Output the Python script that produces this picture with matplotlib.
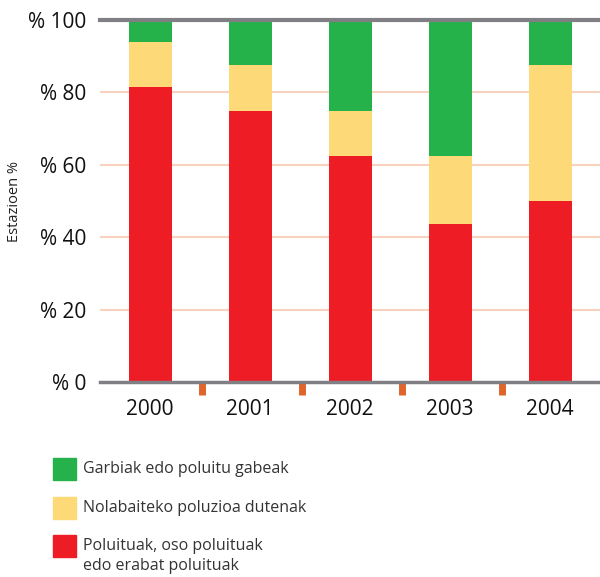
import numpy as np
import matplotlib
matplotlib.use("Agg")
from matplotlib import pyplot as plt
from matplotlib.patches import Rectangle

years = ["2000", "2001", "2002", "2003", "2004"]
poluituak = [81.5, 75.0, 62.5, 43.75, 50.0]
nolabaiteko = [12.5, 12.5, 12.5, 18.75, 37.5]
garbiak = [6.0, 12.5, 25.0, 37.5, 12.5]

labels = ["Garbiak edo poluitu gabeak",
          "Nolabaiteko poluzioa dutenak",
          "Poluituak, oso poluituak\nedo erabat poluituak"]
colors = ["#25b24b", "#fdd978", "#ee1c25"]

plt.rcParams['font.family'] = ['Open Sans', 'DejaVu Sans']

fig = plt.figure(figsize=(6, 5.77), dpi=100)
ax = fig.add_axes([100/600, 1-382/577, 500/600, 362/577])

x = np.arange(len(years))
w = 0.43
red = np.array(poluituak)
yel = np.array(nolabaiteko)
grn = np.array(garbiak)
ax.bar(x, red, w, color=colors[2], zorder=3)
ax.bar(x, yel, w, bottom=red, color=colors[1], zorder=3)
ax.bar(x, grn, w, bottom=red+yel, color=colors[0], zorder=3)

ax.set_xlim(-0.5, 4.5)
ax.set_ylim(0, 100)
ax.set_yticks([0, 20, 40, 60, 80, 100])
ax.set_yticklabels(["% " + str(v) for v in [0, 20, 40, 60, 80, 100]], fontsize=15, color="#111111")
ax.set_xticks(x)
ax.set_xticklabels(years, fontsize=15, color="#111111")
ax.set_xticks(x[:-1] + 0.52, minor=True)
ax.tick_params(axis='both', which='major', length=0, pad=10)
ax.tick_params(axis='x', which='major', pad=12)
ax.tick_params(axis='x', which='minor', length=9, width=5, color="#e0652a", direction='out')

for v in [20, 40, 60, 80]:
    ax.axhline(v, color="#f8d2bf", lw=1.5, zorder=1)
ax.axhline(100, color="#808084", lw=3, zorder=4, clip_on=False)

for s in ['top', 'right', 'left']:
    ax.spines[s].set_visible(False)
ax.spines['bottom'].set_color("#808084")
ax.spines['bottom'].set_linewidth(2.5)
ax.spines['bottom'].set_zorder(4)

ax.set_ylabel("Estazioen %", fontsize=10.5, color="#222222")
ax.yaxis.set_label_coords(-0.155, 0.5)

# legend drawn by hand so the square sits on the first text line
tops = [458, 497, 535]
for lab, col, t in zip(labels, colors, tops):
    fig.patches.append(Rectangle((53/600, 1-(t+22)/577), 23/600, 22/577,
                                 color=col, transform=fig.transFigure, figure=fig))
    fig.text(83/600, 1-(t+3)/577, lab, fontsize=11.5, color="#333333",
             va='top', ha='left', linespacing=1.3)

fig.savefig("out.png", dpi=100)
